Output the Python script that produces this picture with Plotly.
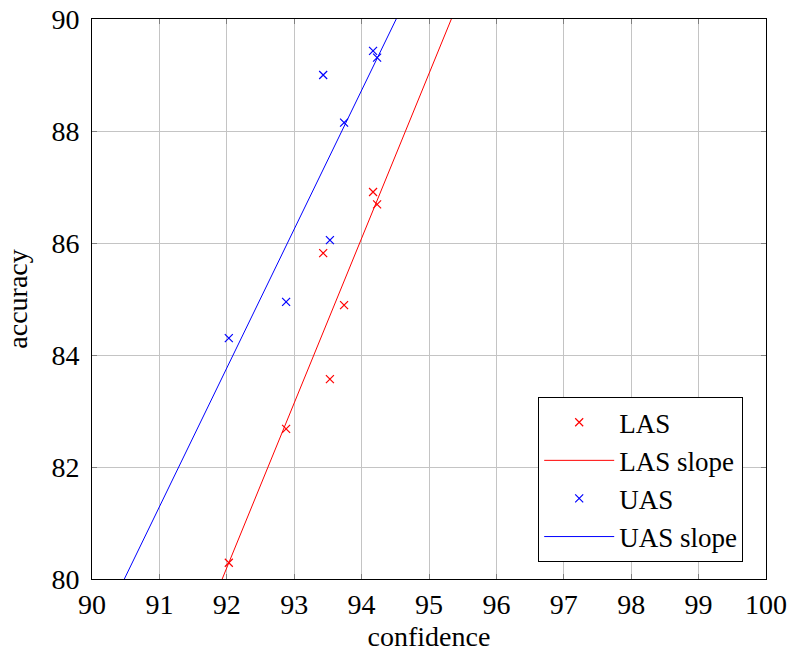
import numpy as np
import plotly.graph_objects as go

confidence = [92.03, 92.88, 93.43, 93.53, 93.74, 94.17, 94.23]
las = [80.29, 82.68, 85.82, 83.57, 84.89, 86.91, 86.69]
uas = [84.30, 84.95, 89.00, 86.05, 88.15, 89.43, 89.31]
x_ticks = list(range(90, 101))
y_ticks = [80, 82, 84, 86, 88, 90]

font_family = "Liberation Serif"
fs = 28

line_x = np.array([88.0, 102.0])
las_fit = np.polyfit(confidence, las, 1)
uas_fit = np.polyfit(confidence, uas, 1)

fig = go.Figure()
fig.add_trace(go.Scatter(x=confidence, y=las, mode="markers", name="LAS",
                         marker=dict(symbol="x-thin-open", size=8, color="red",
                                     line=dict(color="red", width=1.2))))
fig.add_trace(go.Scatter(x=line_x, y=np.polyval(las_fit, line_x), mode="lines",
                         name="LAS slope", line=dict(color="red", width=1)))
fig.add_trace(go.Scatter(x=confidence, y=uas, mode="markers", name="UAS",
                         marker=dict(symbol="x-thin-open", size=8, color="blue",
                                     line=dict(color="blue", width=1.2))))
fig.add_trace(go.Scatter(x=line_x, y=np.polyval(uas_fit, line_x), mode="lines",
                         name="UAS slope", line=dict(color="blue", width=1)))

axis_common = dict(showgrid=True, gridcolor="#c4c4c4", gridwidth=1,
                   showline=True, linecolor="black", linewidth=1, mirror="ticks",
                   ticks="inside", ticklen=5, tickcolor="#7f7f7f",
                   zeroline=False, automargin=False,
                   tickfont=dict(family=font_family, size=fs, color="black"))

fig.update_xaxes(range=[90, 100], tickvals=x_ticks, ticktext=[str(t) for t in x_ticks],
                 title=dict(text="confidence", font=dict(family=font_family, size=fs, color="black")),
                 **axis_common)
fig.update_yaxes(range=[80, 90], tickvals=y_ticks, ticktext=[str(t) for t in y_ticks],
                 ticklabelstandoff=6,
                 title=dict(text="accuracy", font=dict(family=font_family, size=fs, color="black")),
                 **axis_common)

fig.update_layout(
    width=788, height=652,
    margin=dict(l=92, r=22, t=19, b=73),
    paper_bgcolor="white", plot_bgcolor="white",
    font=dict(family=font_family, size=fs, color="black"),
    showlegend=True,
    legend=dict(x=0.662, y=0.030, xanchor="left", yanchor="bottom",
                bgcolor="white", bordercolor="black", borderwidth=1,
                font=dict(family=font_family, size=27), itemwidth=70, tracegroupgap=0),
)

fig.write_html("out.html", config={"displayModeBar": False},
               post_script="document.body.style.margin='0';document.body.style.overflow='hidden';")
